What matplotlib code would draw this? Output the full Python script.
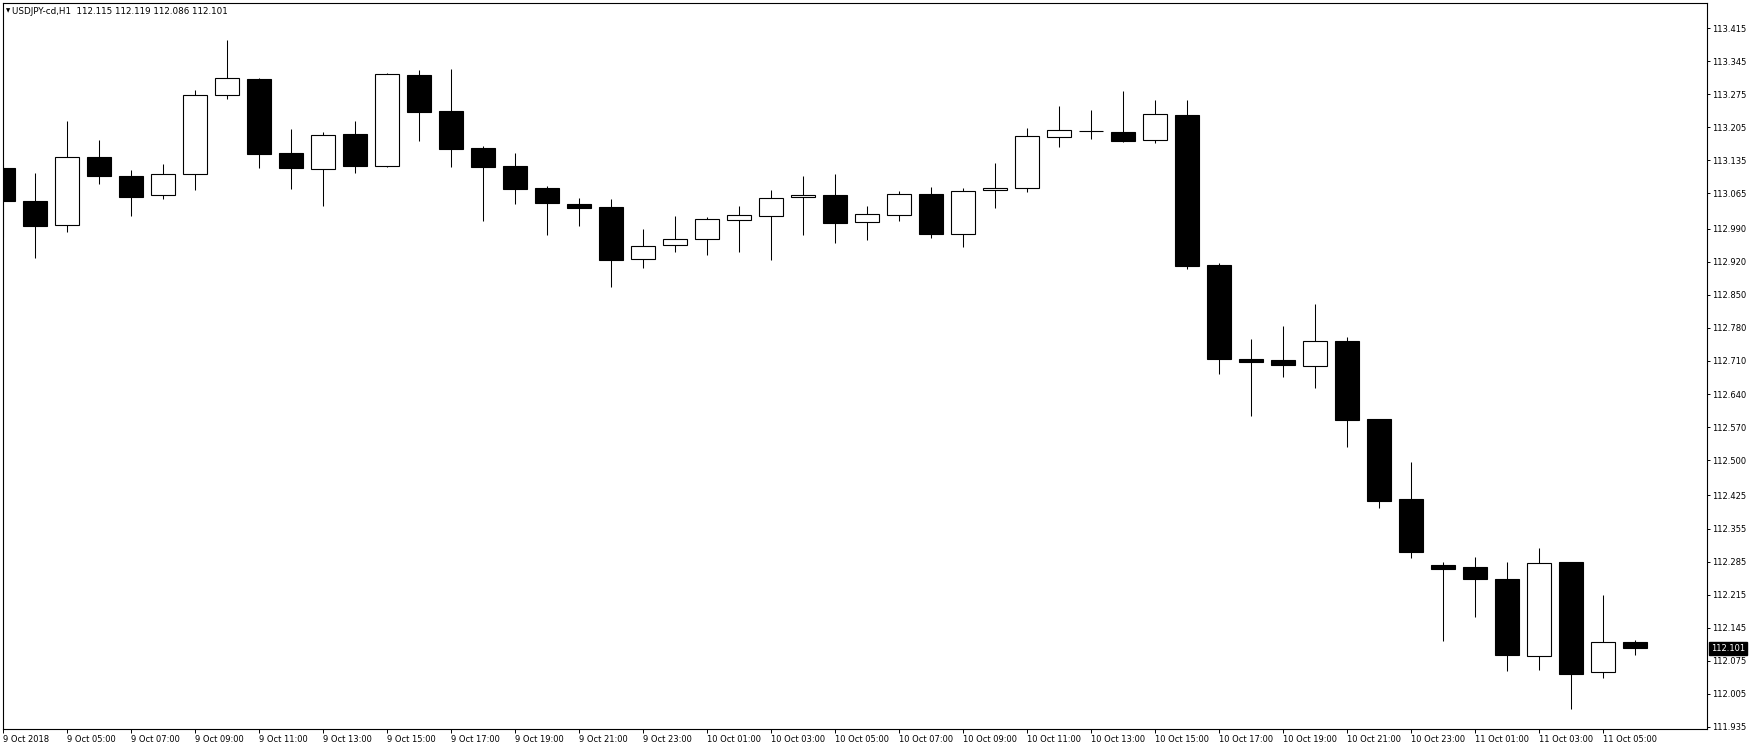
import matplotlib
matplotlib.use("Agg")
import matplotlib.pyplot as plt
import numpy as np

# ---- data (USDJPY-cd, H1, 9 Oct 2018 03:00 .. 11 Oct 2018 06:00) ----
opens = [113.119, 113.048, 112.998, 113.142, 113.102, 113.061, 113.106, 113.273, 113.308, 113.151,
         113.116, 113.191, 113.123, 113.316, 113.240, 113.161, 113.123, 113.077, 113.043, 113.036,
         112.926, 112.955, 112.968, 113.008, 113.017, 113.057, 113.061, 113.004, 113.019, 113.064,
         112.979, 113.072, 113.076, 113.184, 113.197, 113.195, 113.178, 113.231, 112.913, 112.714,
         112.712, 112.700, 112.752, 112.587, 112.418, 112.278, 112.273, 112.248, 112.084, 112.284,
         112.050, 112.115]
highs = [113.127, 113.108, 113.219, 113.178, 113.115, 113.127, 113.284, 113.390, 113.310, 113.202,
         113.195, 113.219, 113.320, 113.327, 113.329, 113.166, 113.151, 113.081, 113.055, 113.053,
         112.990, 113.017, 113.015, 113.038, 113.072, 113.102, 113.106, 113.038, 113.070, 113.079,
         113.077, 113.130, 113.204, 113.250, 113.242, 113.282, 113.263, 113.263, 112.918, 112.757,
         112.784, 112.831, 112.761, 112.588, 112.496, 112.284, 112.295, 112.284, 112.314, 112.285,
         112.214, 112.119]
lows = [112.972, 112.929, 112.984, 113.086, 113.018, 113.054, 113.073, 113.266, 113.118, 113.075,
        113.039, 113.109, 113.122, 113.177, 113.120, 113.007, 113.043, 112.976, 112.995, 112.867,
        112.906, 112.942, 112.935, 112.942, 112.925, 112.978, 112.961, 112.967, 113.007, 112.971,
        112.952, 113.035, 113.069, 113.164, 113.181, 113.173, 113.171, 112.905, 112.683, 112.594,
        112.677, 112.653, 112.528, 112.399, 112.293, 112.117, 112.168, 112.054, 112.056, 111.973,
        112.039, 112.086]
closes = [113.048, 112.995, 113.142, 113.103, 113.058, 113.106, 113.273, 113.309, 113.149, 113.118,
          113.188, 113.124, 113.318, 113.238, 113.160, 113.120, 113.075, 113.045, 113.035, 112.923,
          112.953, 112.968, 113.010, 113.019, 113.055, 113.061, 113.003, 113.021, 113.063, 112.980,
          113.070, 113.076, 113.186, 113.199, 113.197, 113.177, 113.233, 112.911, 112.715, 112.708,
          112.702, 112.752, 112.584, 112.414, 112.306, 112.270, 112.249, 112.086, 112.281, 112.047,
          112.114, 112.101]

x_labels = ["9 Oct 2018", "9 Oct 05:00", "9 Oct 07:00", "9 Oct 09:00", "9 Oct 11:00",
            "9 Oct 13:00", "9 Oct 15:00", "9 Oct 17:00", "9 Oct 19:00", "9 Oct 21:00",
            "9 Oct 23:00", "10 Oct 01:00", "10 Oct 03:00", "10 Oct 05:00", "10 Oct 07:00",
            "10 Oct 09:00", "10 Oct 11:00", "10 Oct 13:00", "10 Oct 15:00", "10 Oct 17:00",
            "10 Oct 19:00", "10 Oct 21:00", "10 Oct 23:00", "11 Oct 01:00", "11 Oct 03:00",
            "11 Oct 05:00"]
y_ticks = [113.415, 113.345, 113.275, 113.205, 113.135, 113.065, 112.990, 112.920, 112.850,
           112.780, 112.710, 112.640, 112.570, 112.500, 112.425, 112.355, 112.285, 112.215,
           112.145, 112.075, 112.005, 111.935]
title = "USDJPY-cd,H1  112.115 112.119 112.086 112.101"

# ---- figure ----
plt.rcParams['font.family'] = ['DejaVu Sans']
plt.rcParams['font.size'] = 6

W_PX, H_PX = 1750, 750
fig = plt.figure(figsize=(W_PX / 100, H_PX / 100), dpi=100)
left, right, top, bottom = 2.7, 1706.7, 2.7, 729.0
ax = fig.add_axes([left / W_PX, 1 - bottom / H_PX, (right - left) / W_PX, (bottom - top) / H_PX])

o = np.array(opens); h = np.array(highs); l = np.array(lows); c = np.array(closes)
idx = np.arange(len(o))

ax.vlines(idx, l, h, color='black', linewidth=0.75, zorder=2)
face = ['white' if cc > oo else 'black' for oo, cc in zip(o, c)]
ax.bar(idx, c - o, bottom=o, width=0.74, color=face, edgecolor='black',
       linewidth=0.8, zorder=3)

ax.set_xlim(-0.019, 53.23)
ax.set_ylim(111.9302, 113.4692)

ax.set_xticks(idx[::2])
ax.set_xticklabels(x_labels, ha='left')
ax.set_yticks(y_ticks)
ax.set_yticklabels([f"{v:.3f}" for v in y_ticks])

ax.yaxis.tick_right()
ax.tick_params(axis='y', direction='out', length=2.2, width=0.7, pad=1.5, labelsize=6)
ax.tick_params(axis='x', direction='out', length=3, width=0.7, pad=1.5, labelsize=6)
for sp in ax.spines.values():
    sp.set_linewidth(0.8)
    sp.set_color('black')

# last price marker
ax.text(1.0025, closes[-1], f"{closes[-1]:.3f}", transform=ax.get_yaxis_transform(),
        ha='left', va='center', color='white', fontsize=6,
        bbox=dict(boxstyle='square,pad=0.2', facecolor='black', edgecolor='black'), zorder=5,
        clip_on=False)

# title
fig.text(5.5 / W_PX, 1 - 10.8 / H_PX, "\u25bc", fontsize=4, va='center', ha='left')
fig.text(11.5 / W_PX, 1 - 11.2 / H_PX, title, fontsize=6.3, va='center', ha='left')

fig.savefig("out.png", dpi=100)
